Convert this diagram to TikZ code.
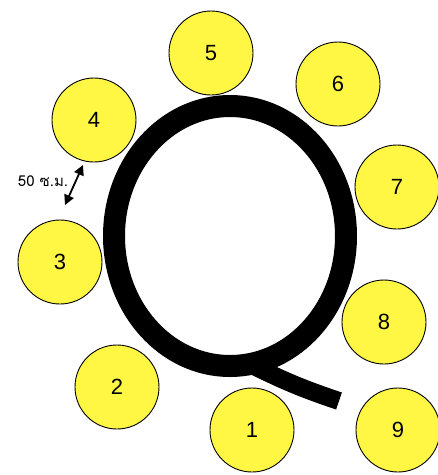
\documentclass[tikz,border=0pt]{standalone}
\usepackage{fontspec}
\setmainfont{Liberation Sans}
\newfontfamily\thaifont[Script=Thai]{Loma}
\usepackage{xcolor}
\usetikzlibrary{arrows.meta,positioning}

\definecolor{seatyellow}{RGB}{255,247,68}

\begin{document}
\begin{tikzpicture}[
  x=1pt, y=-1pt,
  seat/.style={draw, line width=0.9pt, fill=seatyellow, circle, minimum size=84pt, inner sep=0pt,
    font=\fontsize{22}{22}\selectfont},
  arr/.style={{Triangle[length=10pt,width=10pt]}-{Triangle[length=10pt,width=10pt]}, line width=1.8pt}
]
  \useasboundingbox (0,0) rectangle (438,475);

  % the letter Q
  \draw[line width=22pt] (230,236) ellipse [x radius=116, y radius=130];
  \draw[line width=18pt] (250,364) to[bend right=4] (339,401);

  % seats round the letter
  \node[seat] (s1) at (252,430) {1};
  \node[seat] (s2) at (117,387) {2};
  \node[seat] (s3) at (60,262)  {3};
  \node[seat] (s4) at (94,120)  {4};
  \node[seat] (s5) at (211,53)  {5};
  \node[seat] (s6) at (338,84)  {6};
  \node[seat] (s7) at (397,187) {7};
  \node[seat] (s8) at (384,322) {8};
  \node[seat] (s9) at (398,430) {9};

  % spacing mark
  \coordinate (gtop) at (83,165);
  \coordinate (gbot) at (65,205);
  \draw[arr] (gtop) -- (gbot);
  \node[font=\thaifont\fontsize{15}{15}\selectfont] (gap) at (43,181) {50 ซ.ม.};
\end{tikzpicture}
\end{document}
